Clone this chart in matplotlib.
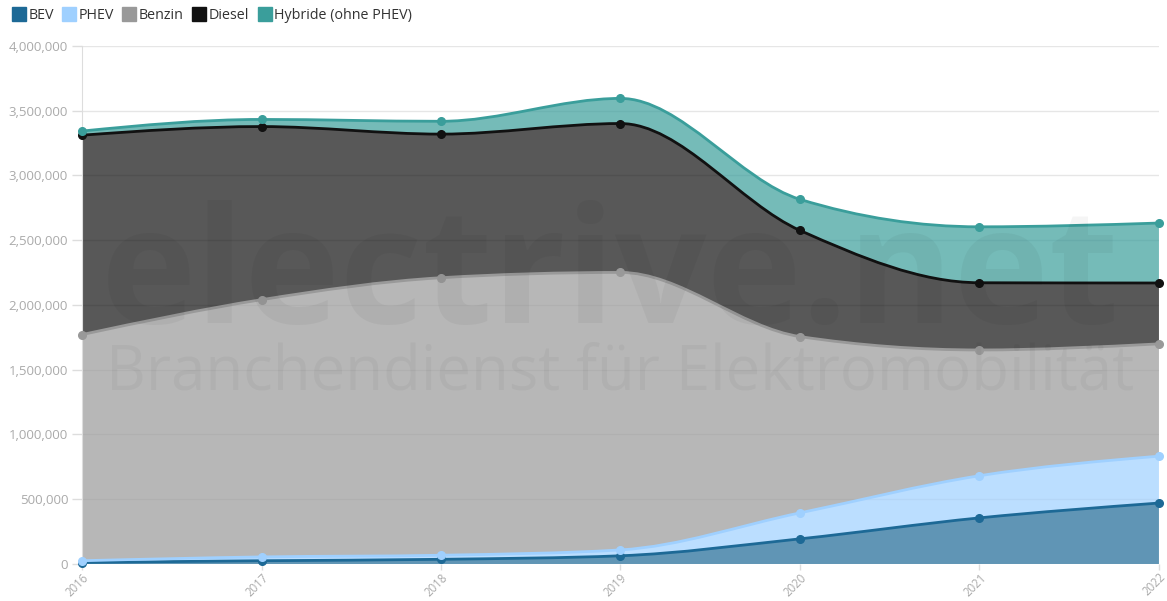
import matplotlib
matplotlib.use('Agg')
import matplotlib.pyplot as plt
import numpy as np
from matplotlib.path import Path
from matplotlib.patches import PathPatch
from matplotlib.lines import Line2D
from matplotlib.ticker import FuncFormatter

plt.rcParams['font.family'] = ['Open Sans', 'DejaVu Sans']

# Neuzulassungen nach Antriebsart
years = [2016, 2017, 2018, 2019, 2020, 2021, 2022]
bev = [11410, 25056, 36062, 63281, 194163, 355961, 470559]
phev = [13744, 29436, 31442, 45348, 200469, 325449, 362093]
benzin = [1746308, 1986488, 2142985, 2142828, 1361404, 971248, 867110]
diesel = [1539596, 1336776, 1108905, 1149685, 819803, 519000, 470000]
hybride = [32000, 55000, 99000, 194000, 240000, 432000, 463000]

names = ['BEV', 'PHEV', 'Benzin', 'Diesel', 'Hybride (ohne PHEV)']
series = [bev, phev, benzin, diesel, hybride]
line_colors = ['#1d6996', '#9fd0ff', '#999999', '#111111', '#3a9e9b']


def mono_slopes(x, y):
    # d3 curveMonotoneX tangents
    x = np.asarray(x, float); y = np.asarray(y, float)
    h = np.diff(x); s = np.diff(y) / h
    t = np.zeros(len(x))
    for i in range(1, len(x) - 1):
        p = (s[i-1] * h[i] + s[i] * h[i-1]) / (h[i-1] + h[i])
        t[i] = (np.sign(s[i-1]) + np.sign(s[i])) * min(abs(s[i-1]), abs(s[i]), 0.5 * abs(p))
    t[0] = (3 * s[0] - t[1]) / 2
    t[-1] = (3 * s[-1] - t[-2]) / 2
    return t


def curve_segments(x, y):
    t = mono_slopes(x, y)
    segs = []
    for i in range(len(x) - 1):
        d = (x[i+1] - x[i]) / 3
        segs.append(((x[i] + d, y[i] + d * t[i]),
                     (x[i+1] - d, y[i+1] - d * t[i+1]),
                     (x[i+1], y[i+1])))
    return segs


def curve_path(x, y):
    verts = [(x[0], y[0])]; codes = [Path.MOVETO]
    for c1, c2, p in curve_segments(x, y):
        verts += [c1, c2, p]; codes += [Path.CURVE4] * 3
    return verts, codes


def band_path(x, lo, hi):
    verts, codes = curve_path(x, hi)
    xr = x[::-1]; lr = lo[::-1]
    verts.append((xr[0], lr[0])); codes.append(Path.LINETO)
    for c1, c2, p in curve_segments(xr, lr):
        verts += [c1, c2, p]; codes += [Path.CURVE4] * 3
    verts.append(verts[0]); codes.append(Path.CLOSEPOLY)
    return Path(verts, codes)


fig = plt.figure(figsize=(11.67, 6.01), dpi=100)
ax = fig.add_axes([0.0703, 0.0616, 0.9228, 0.8619])

x = np.array(years, float)
tops = np.cumsum(np.array(series, float), axis=0)
bottoms = np.vstack([np.zeros(len(x)), tops[:-1]])

# watermark
fig.text(0.523, 0.462, 'electrive.net', ha='center', va='baseline', fontsize=116,
         fontweight='bold', color='black', alpha=0.04, zorder=0)
fig.text(0.531, 0.352, 'Branchendienst für Elektromobilität', ha='center', va='baseline',
         fontsize=44.5, color='black', alpha=0.035, zorder=0)

for i in range(len(series)):
    ax.add_patch(PathPatch(band_path(x, bottoms[i], tops[i]), facecolor=line_colors[i],
                           alpha=0.7, edgecolor='none', zorder=2))
for i in range(len(series)):
    v, c = curve_path(x, tops[i])
    ax.add_patch(PathPatch(Path(v, c), facecolor='none', edgecolor=line_colors[i],
                           lw=2.0, zorder=3 + i, clip_on=False))
    ax.plot(x, tops[i], 'o', color=line_colors[i], ms=5.5, zorder=3 + i, clip_on=False)

ax.set_xlim(2016, 2022)
ax.set_ylim(0, 4000000)
ax.set_xticks(years)
ax.set_xticklabels([str(y) for y in years], rotation=45, ha='right',
                   rotation_mode='anchor')
ax.set_yticks(np.arange(0, 4000001, 500000))
ax.yaxis.set_major_formatter(FuncFormatter(lambda v, p: f'{int(v):,}'))
ax.grid(axis='y', color='#e6e6e6', lw=1, zorder=1)
ax.set_axisbelow(True)
ax.tick_params(axis='y', colors='#dddddd', labelcolor='#aaaaaa', labelsize=9.5,
               length=7, width=1, pad=3)
ax.tick_params(axis='x', colors='#dddddd', labelcolor='#aaaaaa', labelsize=8.3,
               length=4, width=1, pad=1)
for s in ['top', 'right', 'bottom']:
    ax.spines[s].set_visible(False)
ax.spines['left'].set_color('#dddddd')

handles = [Line2D([0], [0], marker='s', ls='none', markersize=9.4,
                  markerfacecolor=c, markeredgecolor=c) for c in line_colors]
fig.legend(handles, names, loc='upper left', bbox_to_anchor=(-0.001, 1.008), ncol=5,
           frameon=False, fontsize=10.3, handlelength=0.95, handletextpad=0.2,
           columnspacing=0.6, labelcolor='#333333')

fig.savefig('out.png', dpi=100, facecolor='white')
